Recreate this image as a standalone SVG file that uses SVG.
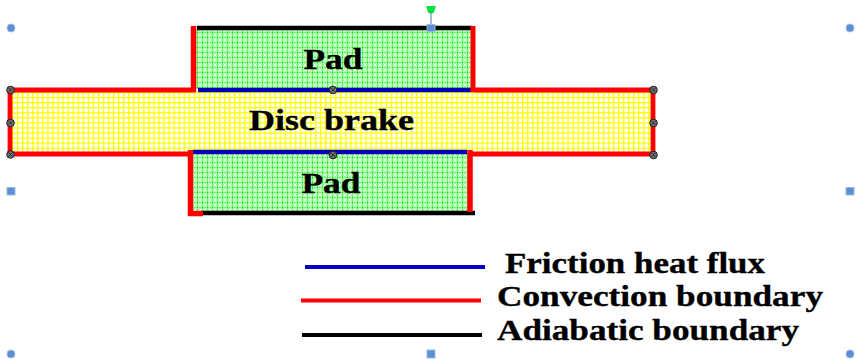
<svg xmlns="http://www.w3.org/2000/svg" width="856" height="359" viewBox="0 0 856 359">
<style>
text{font-family:"Liberation Serif","Times New Roman",serif;font-weight:bold;fill:#000;stroke:#000;stroke-width:.35}
.r{stroke:#f00;fill:none}
.b{stroke:#0000b8;fill:none}
.k{stroke:#000;fill:none}
.h{fill:#5b8fd6;stroke:#9db9e0;stroke-width:1}
.g{fill:#707070;stroke:#222;stroke-width:1}
.gx{stroke:#222;stroke-width:.8;fill:none}
</style>
<defs>
<pattern id="yel" width="5.05" height="5.05" patternUnits="userSpaceOnUse" x="12" y="92">
<rect width="5.05" height="5.05" fill="#ffffff"/>
<path d="M0 .6H5.05M.6 0V5.05" stroke="#ffff00" stroke-width="1.300"/>
</pattern>
<pattern id="grn" width="5" height="5" patternUnits="userSpaceOnUse">
<rect width="5" height="5" fill="#7cfa7c"/>
<path d="M0 0L5 5M5 0L0 5" stroke="#e8ffe8" stroke-width="1.100"/>
<path d="M2.500 1L3.500 2.500L2.500 4L1.500 2.500z" fill="#10e810"/>
</pattern>
<g id="gd"><circle r="3.800" class="g"/><path d="M-2.400-2.400L2.400 2.400M2.400-2.400L-2.400 2.400" class="gx"/></g>
</defs>

<g id="disc">
<rect x="11" y="90" width="642" height="64" fill="url(#yel)"/>
<text x="331.500" y="130" font-size="29" text-anchor="middle" textLength="165" lengthAdjust="spacingAndGlyphs">Disc brake</text>
</g>
<g id="pad-top">
<rect x="194" y="29" width="278" height="60" fill="url(#grn)"/>
<text x="333" y="69" font-size="30" text-anchor="middle" textLength="59" lengthAdjust="spacingAndGlyphs">Pad</text>
</g>
<g id="pad-bottom">
<rect x="191" y="154" width="278" height="58" fill="url(#grn)"/>
<text x="331" y="193" font-size="30" text-anchor="middle" textLength="59" lengthAdjust="spacingAndGlyphs">Pad</text>
</g>

<g id="connectors">
<path class="k" stroke-width="4.500" d="M197 28H472"/>
<path class="k" stroke-width="4.500" d="M202 213H475"/>
<path class="b" stroke-width="4.500" d="M198 90H472"/>
<path class="b" stroke-width="4.500" d="M193 152H467"/>
<path class="r" stroke-width="4.800" d="M653 90H473M196 90H10M10 90V154M10 154H190M470 154H653M653 154V90"/>
<path class="r" stroke-width="5.500" d="M193.500 26V92"/>
<path class="r" stroke-width="5" d="M473 26V92"/>
<path class="r" stroke-width="5.500" d="M190.500 150V213.500H203"/>
<path class="r" stroke-width="5.500" d="M470 150V212"/>
</g>

<g id="handles">
<circle class="h" cx="11" cy="28" r="4"/>
<circle class="h" cx="850" cy="28" r="4"/>
<rect class="h" x="7" y="187.500" width="8" height="7.500"/>
<rect class="h" x="846" y="187.500" width="8" height="7.500"/>
<circle class="h" cx="11" cy="354" r="4"/>
<rect class="h" x="427" y="350" width="8" height="8"/>
<circle class="h" cx="850" cy="354" r="4"/>
<path d="M431 8V25" stroke="#8aa4cc" stroke-width="1.500"/>
<path d="M426 6h10l-1.500 4a3.500 3.500 0 0 1-7 0z" fill="#00e040"/>
<rect class="h" x="427" y="24.500" width="8" height="7"/>
<use href="#gd" x="10.500" y="90"/>
<use href="#gd" x="10.500" y="123"/>
<use href="#gd" x="10.500" y="154.500"/>
<use href="#gd" x="333" y="90"/>
<use href="#gd" x="333" y="155"/>
<use href="#gd" x="653.500" y="90"/>
<use href="#gd" x="653.500" y="123"/>
<use href="#gd" x="653.500" y="155"/>
</g>

<g id="legend-friction">
<path stroke="#0000c8" fill="none" stroke-width="4" d="M305 267H485"/>
<text x="505" y="273" font-size="29" textLength="260" lengthAdjust="spacingAndGlyphs">Friction heat flux</text>
</g>
<g id="legend-convection">
<path class="r" stroke-width="4" d="M301 300.500H481"/>
<text x="497" y="306" font-size="29" textLength="326" lengthAdjust="spacingAndGlyphs">Convection boundary</text>
</g>
<g id="legend-adiabatic">
<path class="k" stroke-width="4" d="M302 335H482"/>
<text x="497" y="340" font-size="29" textLength="302" lengthAdjust="spacingAndGlyphs">Adiabatic boundary</text>
</g>
</svg>
